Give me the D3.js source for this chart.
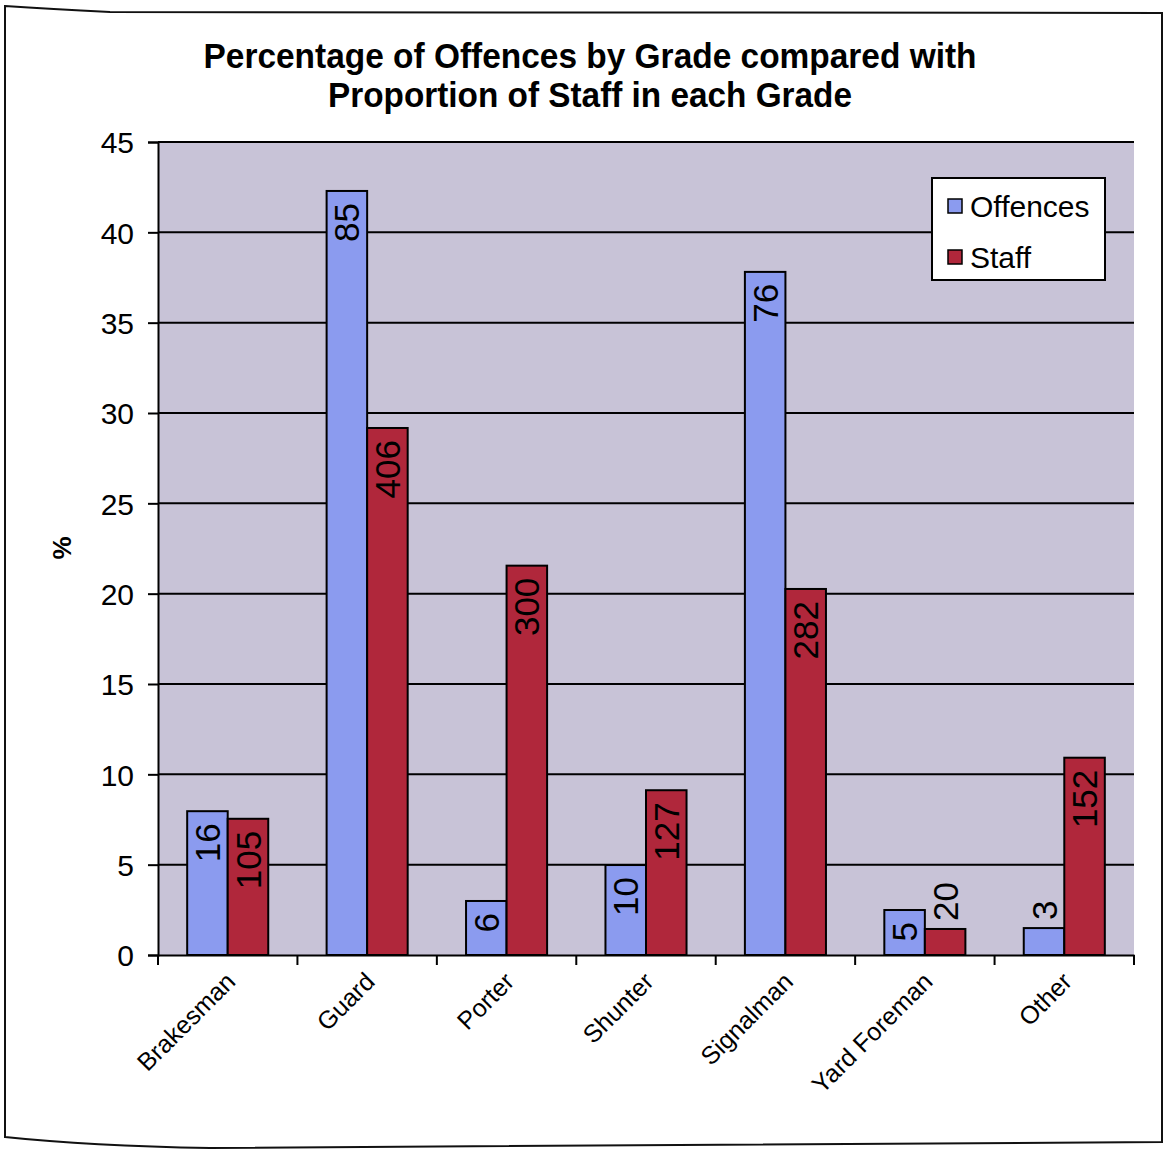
<!DOCTYPE html>
<html>
<head>
<meta charset="utf-8">
<script src="https://cdn.jsdelivr.net/npm/d3@7"></script>
<style>
  html, body { margin: 0; padding: 0; background: #ffffff; }
  svg { display: block; }
  text { font-family: "Liberation Sans", Arial, sans-serif; fill: #000; }
</style>
</head>
<body>
<svg id="chart" width="1169" height="1151"></svg>
<script>
// Grades and their shares (%) of offences and of staff
const grades = ["Brakesman", "Guard", "Porter", "Shunter", "Signalman", "Yard Foreman", "Other"];
const offencesPct = [7.96, 42.29, 2.99, 4.98, 37.81, 2.49, 1.49];
const staffPct    = [7.54, 29.17, 21.55, 9.12, 20.26, 1.44, 10.92];
// Counts printed on the bars
const offencesCount = [16, 85, 6, 10, 76, 5, 3];
const staffCount    = [105, 406, 300, 127, 282, 20, 152];
const seriesNames = ["Offences", "Staff"];
const yTicks = [0, 5, 10, 15, 20, 25, 30, 35, 40, 45];
const titleLines = ["Percentage of Offences by Grade compared with", "Proportion of Staff in each Grade"];

const colors = { Offences: "#8b9bef", Staff: "#b0273b" };

const svg = d3.select("#chart");

// Outer frame of the chart
svg.append("path")
  .attr("d", "M5,6 Q50,9 110,12 L1162,13 L1162,1142 L210,1148 Q90,1146 5,1137 Z")
  .attr("fill", "none").attr("stroke", "#111").attr("stroke-width", 2);

const plot = { left: 158, right: 1134, top: 142, bottom: 955 };

const x = d3.scaleBand().domain(grades).range([plot.left, plot.right]).paddingInner(0).paddingOuter(0);
const x1 = d3.scaleBand().domain(seriesNames).range([0, x.bandwidth()]).paddingInner(0).paddingOuter(0.72);
const y = d3.scaleLinear().domain([0, 45]).range([plot.bottom, plot.top]);

// Plot background
svg.append("rect")
  .attr("x", plot.left).attr("y", plot.top)
  .attr("width", plot.right - plot.left).attr("height", plot.bottom - plot.top)
  .attr("fill", "#c8c3d7");

// Gridlines
svg.append("g").selectAll("line").data(yTicks.filter(d => d > 0)).join("line")
  .attr("x1", plot.left).attr("x2", plot.right)
  .attr("y1", d => y(d)).attr("y2", d => y(d))
  .attr("stroke", "#000").attr("stroke-width", 2);

// Y axis
const yAxis = d3.axisLeft(y).tickValues(yTicks).tickSize(10).tickPadding(14);
const gy = svg.append("g").attr("transform", `translate(${plot.left},0)`).call(yAxis);
gy.select(".domain").attr("stroke", "#000").attr("stroke-width", 2);
gy.selectAll(".tick line").attr("stroke", "#000").attr("stroke-width", 2);
gy.selectAll(".tick text")
  .style("font-family", "'Liberation Sans', Arial, sans-serif")
  .style("font-size", "30px").attr("fill", "#000").attr("dy", "0.36em");

// Bars
const rows = grades.map((g, i) => ({
  grade: g,
  values: [
    { series: "Offences", pct: offencesPct[i], count: offencesCount[i] },
    { series: "Staff", pct: staffPct[i], count: staffCount[i] }
  ]
}));

const groups = svg.append("g").selectAll("g").data(rows).join("g")
  .attr("transform", d => `translate(${x(d.grade)},0)`);

groups.selectAll("rect").data(d => d.values).join("rect")
  .attr("x", d => x1(d.series))
  .attr("width", x1.bandwidth())
  .attr("y", d => y(d.pct))
  .attr("height", d => y(0) - y(d.pct))
  .attr("fill", d => colors[d.series])
  .attr("stroke", "#000").attr("stroke-width", 2);

// Count labels, rotated; placed above the bar when it is too short
const labelSize = 35;
groups.selectAll("text").data(d => d.values).join("text")
  .each(function(d) {
    const t = d3.select(this);
    const len = String(d.count).length * labelSize * 0.556;
    const h = y(0) - y(d.pct);
    const cx = x1(d.series) + x1.bandwidth() / 2;
    let ty, anchor;
    if (h >= len + 20) { ty = y(d.pct) + 12; anchor = "end"; }
    else { ty = y(d.pct) - 8; anchor = "start"; }
    t.attr("transform", `translate(${cx},${ty}) rotate(-90)`)
      .attr("text-anchor", anchor)
      .attr("dy", "0.36em")
      .style("font-size", labelSize + "px")
      .text(d.count);
  });

// X axis
const xAxis = d3.axisBottom(x).tickSize(0).tickFormat("");
const gx = svg.append("g").attr("transform", `translate(0,${plot.bottom})`).call(xAxis);
gx.select(".domain").attr("stroke", "#000").attr("stroke-width", 2);
gx.selectAll(".tick").remove();
const boundaries = grades.map(g => x(g)).concat([plot.right]);
svg.append("g").selectAll("line").data(boundaries).join("line")
  .attr("x1", d => d).attr("x2", d => d)
  .attr("y1", plot.bottom).attr("y2", plot.bottom + 10)
  .attr("stroke", "#000").attr("stroke-width", 2);

svg.append("g").selectAll("text").data(grades).join("text")
  .attr("transform", d => `translate(${x(d) + x.bandwidth() / 2 + 3},${plot.bottom + 22}) rotate(-45)`)
  .attr("text-anchor", "end")
  .attr("dy", "0.35em")
  .style("font-size", "25px")
  .text(d => d);

// Y axis title
svg.append("text")
  .attr("transform", `translate(62,548) rotate(-90)`)
  .attr("text-anchor", "middle").attr("dy", "0.35em")
  .style("font-size", "26px").style("font-weight", "bold")
  .text("%");

// Title
const titleWidths = [773, 524];
svg.append("g").selectAll("text").data(titleLines).join("text")
  .attr("x", 590).attr("y", (d, i) => 68 + i * 39)
  .attr("text-anchor", "middle")
  .attr("textLength", (d, i) => titleWidths[i])
  .attr("lengthAdjust", "spacingAndGlyphs")
  .style("font-size", "35px").style("font-weight", "bold")
  .text(d => d);

// Legend
const legend = svg.append("g").attr("transform", "translate(932,178)");
legend.append("rect").attr("width", 173).attr("height", 102)
  .attr("fill", "#fff").attr("stroke", "#000").attr("stroke-width", 2);
const li = legend.selectAll("g").data(seriesNames).join("g")
  .attr("transform", (d, i) => `translate(16,${28 + i * 51})`);
li.append("rect").attr("x", 0).attr("y", -7).attr("width", 14).attr("height", 14)
  .attr("fill", d => colors[d]).attr("stroke", "#000").attr("stroke-width", 1.5);
li.append("text").attr("x", 22).attr("dy", "0.36em")
  .style("font-size", "30px").text(d => d);
</script>
</body>
</html>
